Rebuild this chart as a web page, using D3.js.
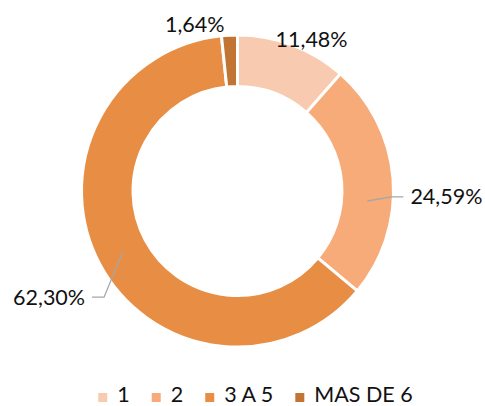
<!DOCTYPE html>
<html>
<head>
<meta charset="utf-8">
<script src="https://cdn.jsdelivr.net/npm/d3@7"></script>
<style>
  body { margin: 0; background: #fff; }
  svg { display: block; font-family: Lato, "Liberation Sans", sans-serif; }
</style>
</head>
<body>
<div id="chart"></div>
<script>
// Data
const categories = ["1", "2", "3 A 5", "MAS DE 6"];
const values = [11.48, 24.59, 62.30, 1.64];
const colors = ["#F8CBB1", "#F6AB79", "#E88E44", "#C17434"];

const W = 485, H = 406;
const cx = 237.5, cy = 191;
const outerR = 156, innerR = 104.5;
const fontSize = 21.5;

// where each label goes (degrees clockwise from top, radius); leader starts at lineA
const labelPlace = [
  {a: 26, r: 169},
  {a: 92.2, r: 154, lineA: 94.4, side: "right"},
  {a: 231.5, r: 170.5, lineA: null, side: "left"},
  {a: -14.4, r: 172}
];

const svg = d3.select("#chart").append("svg")
  .attr("width", W).attr("height", H);

const g = svg.append("g").attr("transform", `translate(${cx},${cy})`);

const pie = d3.pie().sort(null).value(d => d);
const arcs = pie(values);

const arc = d3.arc().innerRadius(innerR).outerRadius(outerR);

g.selectAll("path.slice")
  .data(arcs)
  .enter().append("path")
  .attr("class", "slice")
  .attr("d", arc)
  .attr("fill", (d, i) => colors[i])
  .attr("stroke", "#fff")
  .attr("stroke-width", 3);

const rad = deg => deg * Math.PI / 180;
const polar = (deg, r) => [r * Math.sin(rad(deg)), -r * Math.cos(rad(deg))];
const fmt = v => v.toFixed(2).replace(".", ",") + "%";
const midR = (innerR + outerR) / 2;

arcs.forEach((d, i) => {
  const p = labelPlace[i];
  const [x, y] = polar(p.a, p.r);
  if (p.side) {
    const startDeg = p.lineA != null ? p.lineA : (d.startAngle + d.endAngle) / 2 * 180 / Math.PI;
    const s = polar(startDeg, midR);
    const dir = p.side === "right" ? 1 : -1;
    g.append("polyline")
      .attr("points", [s, [x, y], [x + dir * 12, y]].map(q => q.join(",")).join(" "))
      .attr("fill", "none")
      .attr("stroke", "#A6A6A6")
      .attr("stroke-width", 1.3);
    g.append("text")
      .attr("x", x + dir * 19)
      .attr("y", y)
      .attr("dy", "0.35em")
      .attr("text-anchor", dir > 0 ? "start" : "end")
      .attr("font-size", fontSize)
      .attr("fill", "#111")
      .text(fmt(values[i]));
  } else {
    g.append("text")
      .attr("x", x)
      .attr("y", y)
      .attr("dy", "0.35em")
      .attr("text-anchor", "middle")
      .attr("font-size", fontSize)
      .attr("fill", "#111")
      .text(fmt(values[i]));
  }
});

// Legend
const legend = svg.append("g");
const items = legend.selectAll("g")
  .data(categories)
  .enter().append("g");

items.append("rect")
  .attr("width", 9).attr("height", 9)
  .attr("y", -9)
  .attr("fill", (d, i) => colors[i]);

items.append("text")
  .attr("x", 19)
  .attr("y", 0)
  .attr("font-size", fontSize)
  .attr("fill", "#111")
  .text(d => d);

// lay out legend items side by side
let offs = 0;
const gap = 22;
const pos = [];
items.each(function () {
  pos.push(offs);
  offs += this.getBBox().width + gap;
});
const total = offs - gap;
items.attr("transform", (d, i) => `translate(${(W - total) / 2 + pos[i] + 13},402)`);
</script>
</body>
</html>
